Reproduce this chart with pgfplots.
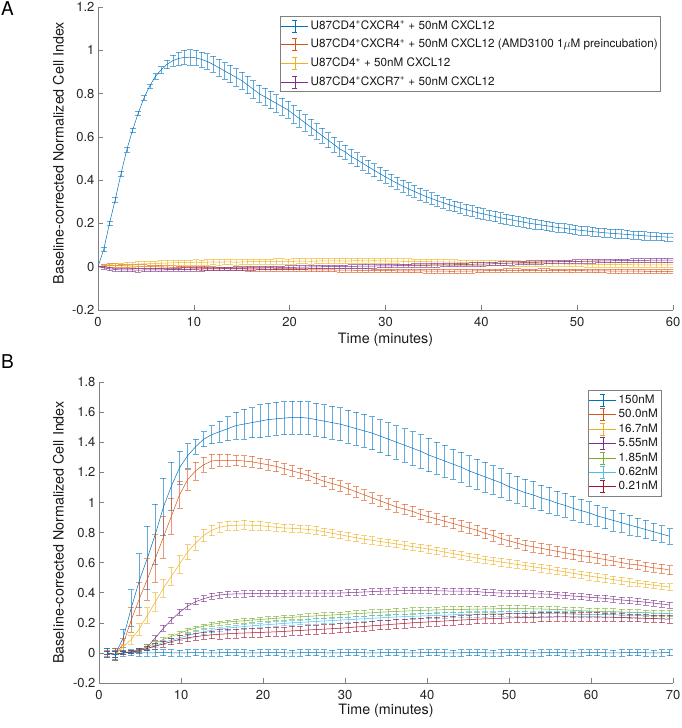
\documentclass[border=0pt]{standalone}
\usepackage{pgfplots}
\usepackage{pgfplotstable}
\pgfplotsset{compat=1.18}
\usepackage{fontspec}
\setmainfont{TeX Gyre Heros}

\definecolor{mlblue}{rgb}{0,0.447,0.741}
\definecolor{mlorange}{rgb}{0.85,0.325,0.098}
\definecolor{mlyellow}{rgb}{0.929,0.694,0.125}
\definecolor{mlpurple}{rgb}{0.494,0.184,0.556}
\definecolor{mlgreen}{rgb}{0.466,0.674,0.188}
\definecolor{mlcyan}{rgb}{0.301,0.745,0.933}
\definecolor{mlred}{rgb}{0.635,0.078,0.184}

% panel A: t, then mean and error for each of the 4 conditions
\pgfplotstableread{
t b eb r er y ey p ep
0.0 0.000 0.000 0.000 0.000 0.000 0.000 0.000 0.000
0.6 0.080 0.010 0.004 0.006 0.002 0.006 -0.005 0.006
1.2 0.200 0.010 0.006 0.008 0.004 0.008 -0.010 0.008
1.8 0.310 0.012 0.006 0.008 0.006 0.010 -0.013 0.008
2.4 0.430 0.012 0.005 0.008 0.008 0.010 -0.015 0.008
3.0 0.540 0.010 0.004 0.008 0.009 0.011 -0.015 0.008
3.6 0.630 0.010 0.003 0.008 0.010 0.011 -0.015 0.008
4.2 0.710 0.010 0.002 0.008 0.012 0.012 -0.016 0.008
4.8 0.780 0.010 0.002 0.008 0.013 0.012 -0.015 0.008
5.4 0.835 0.010 0.001 0.008 0.014 0.012 -0.015 0.008
6.0 0.880 0.012 0.000 0.008 0.015 0.012 -0.014 0.008
6.6 0.910 0.015 -0.001 0.008 0.016 0.012 -0.015 0.008
7.2 0.935 0.020 -0.002 0.008 0.017 0.012 -0.014 0.008
7.8 0.952 0.025 -0.003 0.008 0.018 0.012 -0.013 0.008
8.4 0.962 0.030 -0.004 0.008 0.019 0.012 -0.013 0.008
9.0 0.967 0.032 -0.005 0.008 0.019 0.012 -0.012 0.008
9.6 0.968 0.035 -0.006 0.008 0.020 0.012 -0.012 0.008
10.2 0.965 0.035 -0.006 0.008 0.021 0.012 -0.011 0.008
10.8 0.958 0.035 -0.007 0.008 0.020 0.012 -0.011 0.008
11.4 0.948 0.036 -0.008 0.008 0.021 0.012 -0.010 0.008
12.0 0.935 0.037 -0.008 0.008 0.022 0.012 -0.010 0.008
12.6 0.920 0.038 -0.009 0.008 0.021 0.012 -0.010 0.008
13.2 0.905 0.038 -0.009 0.008 0.022 0.012 -0.009 0.008
13.8 0.890 0.040 -0.010 0.008 0.022 0.012 -0.009 0.008
14.4 0.875 0.040 -0.010 0.008 0.021 0.012 -0.008 0.008
15.0 0.860 0.040 -0.010 0.008 0.022 0.012 -0.008 0.008
15.6 0.840 0.040 -0.011 0.008 0.023 0.012 -0.007 0.008
16.2 0.820 0.040 -0.011 0.008 0.023 0.012 -0.007 0.008
16.8 0.800 0.040 -0.012 0.008 0.024 0.012 -0.006 0.008
17.4 0.785 0.040 -0.012 0.008 0.023 0.012 -0.006 0.008
18.0 0.770 0.040 -0.012 0.008 0.024 0.012 -0.005 0.008
18.6 0.755 0.040 -0.013 0.008 0.025 0.012 -0.005 0.008
19.2 0.740 0.040 -0.013 0.008 0.025 0.012 -0.004 0.008
19.8 0.725 0.040 -0.013 0.008 0.024 0.012 -0.003 0.008
20.4 0.705 0.040 -0.014 0.008 0.025 0.012 -0.003 0.008
21.0 0.685 0.040 -0.014 0.008 0.026 0.012 -0.002 0.008
21.6 0.665 0.038 -0.014 0.008 0.026 0.012 -0.002 0.008
22.2 0.645 0.037 -0.015 0.008 0.025 0.012 -0.001 0.008
22.8 0.625 0.036 -0.015 0.008 0.026 0.012 -0.001 0.008
23.4 0.605 0.035 -0.015 0.008 0.027 0.012 0.000 0.008
24.0 0.585 0.035 -0.015 0.008 0.026 0.012 0.000 0.008
24.6 0.565 0.034 -0.015 0.008 0.027 0.012 0.000 0.008
25.2 0.545 0.033 -0.016 0.008 0.027 0.012 0.001 0.008
25.8 0.530 0.033 -0.016 0.008 0.026 0.012 0.001 0.008
26.4 0.510 0.032 -0.016 0.008 0.027 0.012 0.002 0.008
27.0 0.495 0.032 -0.017 0.008 0.028 0.012 0.002 0.008
27.6 0.478 0.031 -0.017 0.008 0.027 0.012 0.003 0.008
28.2 0.462 0.030 -0.017 0.008 0.027 0.012 0.003 0.008
28.8 0.446 0.030 -0.018 0.008 0.028 0.012 0.003 0.008
29.4 0.430 0.030 -0.018 0.008 0.027 0.012 0.004 0.008
30.0 0.415 0.030 -0.018 0.008 0.027 0.012 0.004 0.008
30.6 0.400 0.029 -0.018 0.008 0.026 0.012 0.004 0.008
31.2 0.386 0.029 -0.019 0.008 0.026 0.012 0.005 0.008
31.8 0.372 0.028 -0.019 0.008 0.025 0.012 0.005 0.008
32.4 0.360 0.028 -0.019 0.008 0.025 0.012 0.005 0.008
33.0 0.348 0.028 -0.019 0.008 0.024 0.012 0.006 0.008
33.6 0.336 0.027 -0.019 0.008 0.024 0.012 0.006 0.008
34.2 0.325 0.027 -0.020 0.008 0.023 0.012 0.006 0.008
34.8 0.315 0.027 -0.020 0.008 0.023 0.012 0.007 0.008
35.4 0.305 0.026 -0.020 0.008 0.022 0.012 0.007 0.008
36.0 0.296 0.026 -0.020 0.008 0.022 0.012 0.008 0.008
36.6 0.287 0.026 -0.021 0.008 0.021 0.012 0.008 0.008
37.2 0.279 0.025 -0.021 0.008 0.021 0.012 0.009 0.008
37.8 0.271 0.025 -0.020 0.008 0.020 0.012 0.010 0.008
38.4 0.264 0.025 -0.020 0.008 0.020 0.012 0.010 0.008
39.0 0.257 0.025 -0.020 0.008 0.019 0.012 0.011 0.008
39.6 0.250 0.025 -0.019 0.008 0.019 0.012 0.012 0.008
40.2 0.244 0.024 -0.019 0.008 0.018 0.012 0.012 0.008
40.8 0.238 0.024 -0.018 0.008 0.018 0.012 0.013 0.008
41.4 0.232 0.024 -0.018 0.008 0.018 0.012 0.014 0.008
42.0 0.226 0.024 -0.018 0.008 0.017 0.012 0.015 0.008
42.6 0.221 0.023 -0.017 0.008 0.017 0.012 0.016 0.008
43.2 0.216 0.023 -0.017 0.008 0.016 0.012 0.017 0.008
43.8 0.211 0.023 -0.017 0.008 0.016 0.012 0.018 0.008
44.4 0.206 0.023 -0.018 0.008 0.015 0.012 0.019 0.008
45.0 0.201 0.022 -0.018 0.008 0.015 0.012 0.020 0.008
45.6 0.197 0.022 -0.018 0.008 0.015 0.012 0.020 0.008
46.2 0.193 0.022 -0.017 0.008 0.014 0.012 0.021 0.008
46.8 0.189 0.022 -0.017 0.008 0.014 0.012 0.022 0.008
47.4 0.185 0.022 -0.018 0.008 0.013 0.012 0.022 0.008
48.0 0.181 0.021 -0.018 0.008 0.013 0.012 0.023 0.008
48.6 0.178 0.021 -0.018 0.008 0.013 0.012 0.024 0.008
49.2 0.174 0.021 -0.019 0.008 0.012 0.012 0.024 0.008
49.8 0.171 0.021 -0.018 0.008 0.012 0.012 0.025 0.008
50.4 0.168 0.021 -0.018 0.008 0.012 0.012 0.025 0.008
51.0 0.165 0.020 -0.019 0.008 0.011 0.012 0.026 0.008
51.6 0.162 0.020 -0.019 0.008 0.011 0.012 0.026 0.008
52.2 0.160 0.020 -0.019 0.008 0.011 0.012 0.027 0.008
52.8 0.157 0.020 -0.019 0.008 0.010 0.012 0.027 0.008
53.4 0.155 0.020 -0.020 0.008 0.010 0.012 0.027 0.008
54.0 0.153 0.020 -0.020 0.008 0.010 0.012 0.028 0.008
54.6 0.151 0.020 -0.020 0.008 0.010 0.012 0.028 0.008
55.2 0.149 0.019 -0.020 0.008 0.010 0.012 0.028 0.008
55.8 0.147 0.019 -0.020 0.008 0.009 0.012 0.029 0.008
56.4 0.145 0.019 -0.020 0.008 0.009 0.012 0.029 0.008
57.0 0.143 0.019 -0.021 0.008 0.009 0.012 0.029 0.008
57.6 0.141 0.018 -0.021 0.008 0.009 0.012 0.030 0.008
58.2 0.140 0.018 -0.021 0.008 0.008 0.012 0.030 0.008
58.8 0.138 0.018 -0.021 0.008 0.008 0.012 0.030 0.008
59.4 0.137 0.018 -0.021 0.008 0.008 0.012 0.030 0.008
60.0 0.136 0.018 -0.021 0.008 0.008 0.012 0.030 0.008
}\tA

% panel B: t, then mean and error for 150, 50, 16.7, 5.55, 1.85, 0.62, 0.21 nM and control
\pgfplotstableread{
t a ea b eb c ec d ed g eg h eh k ek z ez
1.00 0.000 0.030 0.000 0.020 0.000 0.010 0.000 0.010 0.000 0.010 0.000 0.010 0.000 0.010 0.000 0.030
1.98 -0.010 0.040 -0.010 0.040 -0.010 0.020 -0.010 0.020 -0.010 0.020 -0.010 0.020 -0.010 0.020 -0.015 0.030
2.96 0.100 0.060 0.060 0.040 0.040 0.020 0.000 0.010 0.000 0.010 0.000 0.010 0.000 0.010 0.000 0.020
3.94 0.300 0.120 0.220 0.080 0.090 0.030 0.010 0.010 0.010 0.010 0.005 0.010 0.005 0.010 0.002 0.020
4.92 0.480 0.180 0.360 0.110 0.160 0.040 0.020 0.010 0.020 0.010 0.015 0.010 0.015 0.015 0.001 0.020
5.90 0.630 0.210 0.490 0.140 0.250 0.050 0.040 0.015 0.040 0.015 0.030 0.012 0.030 0.015 0.000 0.020
6.88 0.790 0.200 0.630 0.160 0.340 0.060 0.100 0.015 0.065 0.015 0.050 0.012 0.045 0.020 0.001 0.020
7.86 0.970 0.190 0.770 0.140 0.430 0.060 0.165 0.020 0.090 0.015 0.070 0.012 0.060 0.020 0.002 0.020
8.84 1.110 0.160 0.910 0.120 0.510 0.060 0.220 0.020 0.110 0.015 0.085 0.012 0.075 0.020 0.001 0.020
9.82 1.230 0.110 1.050 0.090 0.590 0.060 0.270 0.020 0.130 0.015 0.100 0.015 0.090 0.025 0.000 0.020
10.80 1.310 0.080 1.150 0.070 0.670 0.050 0.310 0.020 0.150 0.015 0.115 0.015 0.100 0.025 0.001 0.020
11.78 1.370 0.050 1.210 0.060 0.730 0.045 0.340 0.020 0.165 0.015 0.128 0.015 0.108 0.025 0.002 0.020
12.76 1.420 0.050 1.250 0.050 0.780 0.040 0.360 0.020 0.178 0.015 0.140 0.015 0.115 0.025 0.001 0.020
13.74 1.450 0.060 1.275 0.045 0.815 0.035 0.375 0.020 0.190 0.015 0.150 0.015 0.120 0.025 0.000 0.020
14.72 1.470 0.070 1.280 0.040 0.835 0.035 0.385 0.020 0.198 0.015 0.158 0.015 0.124 0.030 0.001 0.020
15.70 1.490 0.080 1.280 0.040 0.845 0.030 0.390 0.020 0.205 0.015 0.165 0.015 0.127 0.030 0.002 0.020
16.68 1.510 0.090 1.280 0.035 0.848 0.030 0.392 0.020 0.210 0.015 0.170 0.015 0.130 0.030 0.002 0.020
17.66 1.520 0.100 1.275 0.035 0.850 0.030 0.393 0.020 0.214 0.015 0.175 0.015 0.132 0.030 0.001 0.020
18.64 1.530 0.100 1.270 0.035 0.848 0.030 0.394 0.020 0.218 0.015 0.180 0.015 0.134 0.030 0.000 0.020
19.62 1.540 0.110 1.260 0.035 0.845 0.030 0.395 0.020 0.222 0.015 0.184 0.015 0.136 0.030 0.001 0.020
20.60 1.550 0.110 1.250 0.035 0.840 0.025 0.395 0.020 0.226 0.015 0.188 0.015 0.138 0.030 0.002 0.020
21.58 1.555 0.110 1.240 0.035 0.835 0.025 0.395 0.020 0.230 0.015 0.192 0.015 0.140 0.030 0.002 0.020
22.56 1.560 0.110 1.225 0.035 0.830 0.025 0.396 0.020 0.234 0.015 0.196 0.015 0.143 0.030 0.001 0.020
23.54 1.565 0.110 1.210 0.035 0.828 0.025 0.397 0.020 0.237 0.015 0.200 0.015 0.146 0.030 0.000 0.020
24.52 1.565 0.110 1.195 0.035 0.825 0.025 0.398 0.020 0.240 0.015 0.203 0.015 0.149 0.030 0.001 0.020
25.50 1.560 0.110 1.180 0.035 0.820 0.025 0.398 0.020 0.243 0.018 0.206 0.018 0.152 0.030 0.002 0.020
26.48 1.550 0.110 1.160 0.035 0.815 0.025 0.398 0.020 0.246 0.018 0.209 0.018 0.155 0.030 0.002 0.020
27.46 1.540 0.110 1.140 0.035 0.805 0.025 0.397 0.020 0.249 0.018 0.212 0.018 0.158 0.030 0.001 0.020
28.44 1.530 0.110 1.125 0.035 0.795 0.025 0.397 0.020 0.252 0.018 0.215 0.018 0.161 0.030 0.000 0.020
29.42 1.520 0.110 1.110 0.035 0.785 0.025 0.398 0.020 0.255 0.018 0.218 0.018 0.164 0.030 0.001 0.020
30.40 1.505 0.110 1.090 0.035 0.775 0.025 0.400 0.020 0.258 0.020 0.221 0.018 0.168 0.030 0.002 0.020
31.38 1.490 0.110 1.070 0.035 0.765 0.025 0.402 0.020 0.261 0.020 0.224 0.018 0.172 0.030 0.002 0.020
32.36 1.475 0.110 1.050 0.035 0.755 0.025 0.405 0.020 0.264 0.020 0.227 0.018 0.176 0.030 0.001 0.020
33.34 1.460 0.110 1.030 0.035 0.748 0.025 0.407 0.020 0.267 0.020 0.230 0.018 0.180 0.030 0.000 0.020
34.32 1.440 0.110 1.010 0.035 0.740 0.025 0.410 0.020 0.270 0.020 0.233 0.018 0.184 0.030 0.001 0.020
35.30 1.420 0.110 0.990 0.035 0.732 0.025 0.412 0.020 0.273 0.020 0.236 0.018 0.188 0.030 0.002 0.020
36.28 1.400 0.110 0.970 0.035 0.724 0.025 0.413 0.020 0.276 0.020 0.239 0.018 0.192 0.030 0.002 0.020
37.26 1.380 0.110 0.955 0.035 0.715 0.025 0.414 0.020 0.278 0.020 0.241 0.018 0.196 0.030 0.001 0.020
38.24 1.360 0.110 0.940 0.035 0.706 0.025 0.415 0.020 0.280 0.020 0.243 0.018 0.200 0.030 0.000 0.020
39.22 1.340 0.110 0.920 0.035 0.698 0.025 0.416 0.020 0.282 0.020 0.245 0.018 0.203 0.030 0.001 0.020
40.20 1.315 0.110 0.905 0.035 0.690 0.025 0.415 0.020 0.284 0.020 0.247 0.018 0.206 0.030 0.002 0.020
41.18 1.295 0.105 0.890 0.035 0.680 0.025 0.413 0.020 0.286 0.020 0.249 0.018 0.209 0.030 0.002 0.020
42.16 1.275 0.105 0.875 0.035 0.670 0.025 0.412 0.020 0.287 0.020 0.251 0.018 0.212 0.030 0.001 0.020
43.14 1.255 0.100 0.860 0.035 0.660 0.025 0.410 0.020 0.288 0.020 0.253 0.018 0.215 0.030 0.000 0.020
44.12 1.235 0.100 0.845 0.035 0.650 0.025 0.410 0.020 0.289 0.020 0.255 0.018 0.218 0.030 0.001 0.020
45.10 1.210 0.100 0.830 0.035 0.640 0.025 0.410 0.020 0.290 0.020 0.256 0.018 0.221 0.030 0.002 0.020
46.08 1.190 0.100 0.815 0.035 0.630 0.025 0.407 0.020 0.291 0.020 0.257 0.018 0.224 0.030 0.002 0.020
47.06 1.170 0.100 0.795 0.035 0.620 0.025 0.403 0.020 0.292 0.020 0.258 0.018 0.226 0.030 0.001 0.020
48.04 1.150 0.095 0.780 0.035 0.612 0.025 0.400 0.020 0.293 0.020 0.259 0.018 0.228 0.030 0.000 0.020
49.02 1.130 0.095 0.760 0.035 0.604 0.025 0.398 0.020 0.294 0.020 0.260 0.018 0.230 0.030 0.001 0.020
50.00 1.105 0.090 0.745 0.035 0.596 0.025 0.396 0.020 0.295 0.020 0.261 0.018 0.232 0.030 0.002 0.020
50.98 1.085 0.090 0.730 0.035 0.588 0.025 0.395 0.020 0.295 0.020 0.262 0.018 0.234 0.030 0.002 0.020
51.96 1.065 0.090 0.715 0.035 0.580 0.025 0.394 0.020 0.294 0.020 0.262 0.018 0.235 0.030 0.001 0.020
52.94 1.050 0.090 0.705 0.035 0.572 0.025 0.393 0.020 0.293 0.020 0.262 0.018 0.236 0.030 0.000 0.020
53.92 1.030 0.085 0.695 0.035 0.564 0.025 0.392 0.020 0.292 0.020 0.262 0.018 0.237 0.030 0.001 0.020
54.90 1.015 0.085 0.685 0.035 0.556 0.025 0.390 0.020 0.290 0.020 0.261 0.018 0.238 0.030 0.002 0.020
55.88 0.995 0.080 0.675 0.035 0.547 0.025 0.386 0.020 0.288 0.020 0.260 0.018 0.239 0.030 0.002 0.020
56.86 0.980 0.080 0.665 0.035 0.538 0.025 0.382 0.020 0.286 0.020 0.259 0.018 0.240 0.030 0.001 0.020
57.84 0.960 0.080 0.655 0.035 0.529 0.025 0.378 0.020 0.283 0.020 0.258 0.018 0.240 0.028 0.000 0.020
58.82 0.945 0.075 0.645 0.035 0.520 0.025 0.374 0.020 0.280 0.020 0.257 0.018 0.240 0.028 0.001 0.020
59.80 0.930 0.075 0.640 0.035 0.511 0.025 0.370 0.020 0.278 0.020 0.256 0.018 0.240 0.028 0.002 0.020
60.78 0.910 0.070 0.630 0.035 0.503 0.025 0.366 0.020 0.276 0.020 0.255 0.018 0.239 0.028 0.002 0.020
61.76 0.895 0.070 0.620 0.035 0.495 0.025 0.362 0.020 0.275 0.020 0.254 0.018 0.238 0.028 0.001 0.020
62.74 0.880 0.070 0.610 0.030 0.487 0.025 0.357 0.020 0.274 0.020 0.253 0.018 0.237 0.028 0.000 0.020
63.72 0.865 0.065 0.600 0.030 0.479 0.025 0.352 0.020 0.272 0.020 0.252 0.018 0.236 0.028 0.001 0.020
64.70 0.850 0.065 0.590 0.030 0.471 0.025 0.347 0.020 0.270 0.020 0.251 0.018 0.234 0.025 0.002 0.020
65.68 0.835 0.060 0.585 0.030 0.464 0.022 0.342 0.020 0.268 0.020 0.250 0.018 0.232 0.025 0.002 0.020
66.66 0.820 0.060 0.575 0.030 0.457 0.022 0.337 0.020 0.266 0.020 0.249 0.018 0.230 0.025 0.001 0.020
67.64 0.805 0.055 0.565 0.030 0.450 0.022 0.331 0.020 0.265 0.020 0.248 0.018 0.228 0.025 0.000 0.020
68.62 0.790 0.055 0.560 0.030 0.444 0.022 0.325 0.020 0.264 0.020 0.247 0.018 0.226 0.025 0.001 0.020
69.60 0.775 0.050 0.550 0.030 0.438 0.022 0.318 0.020 0.262 0.020 0.246 0.018 0.224 0.025 0.002 0.020
}\tB

\pgfplotsset{
  panel/.style={
    scale only axis,
    axis x line*=bottom, axis y line*=left,
    axis line style={black!50, line width=0.5pt},
    tick style={black!50, line width=0.5pt},
    major tick length=5pt,
    tick align=inside,
    ticklabel style={font=\fontsize{13}{15}\selectfont, text=black!85},
    xticklabel style={yshift=-4pt},
    label style={font=\fontsize{14.3}{16}\selectfont, text=black!90},
    /pgf/number format/assume math mode=true,
    no markers,
    every axis plot/.append style={line width=0.5pt},
    error bars/y dir=both, error bars/y explicit,
    error bars/error bar style={line width=0.5pt, opacity=0.6},
    error bars/error mark options={rotate=90, mark size=3pt, line width=0.5pt, opacity=0.6},
    legend cell align=left,
    legend style={draw=black!50, line width=0.5pt, fill=white,
      font=\fontsize{11.7}{14}\selectfont, text=black!90,
      inner xsep=1pt, inner ysep=3pt,
      nodes={inner ysep=1pt, inner xsep=2pt, text height=9pt, text depth=2.5pt}},
    legend image code/.code={
      \draw[##1] (0pt,0pt) -- (27pt,0pt);
      \draw[##1] (13.5pt,-6pt) -- (13.5pt,6pt);
      \draw[##1] (11pt,-6pt) -- (16pt,-6pt);
      \draw[##1] (11pt,6pt) -- (16pt,6pt);
    },
  }
}

\begin{document}
\begin{tikzpicture}
\useasboundingbox (0,0) rectangle (682pt,728pt);
\node[font=\fontsize{19}{22}\selectfont] at (7.5pt,719.5pt) {A};
\node[font=\fontsize{19}{22}\selectfont] at (7.5pt,366.5pt) {B};

\begin{axis}[panel,
  at={(98pt,418pt)}, anchor=south west,
  width=575pt, height=303pt,
  xmin=0, xmax=60, ymin=-0.2, ymax=1.2,
  xtick={0,10,...,60},
  ytick={-0.2,0,0.2,0.4,0.6,0.8,1,1.2},
  xlabel={Time (minutes)},
  ylabel={Baseline-corrected Normalized Cell Index},
  xlabel style={at={(axis description cs:0.5,-0.1)}, anchor=center},
  ylabel style={at={(axis description cs:-0.0687,0.518)}, anchor=center},
  legend style={at={(axis description cs:0.3165,0.9703)}, anchor=north west, row sep=5.1pt},
]
\addplot[color=mlblue] table[x=t, y=b, y error=eb] {\tA};
\addlegendentry{U87CD4\textsuperscript{+}CXCR4\textsuperscript{+} + 50nM CXCL12}
\addplot[color=mlorange] table[x=t, y=r, y error=er] {\tA};
\addlegendentry{U87CD4\textsuperscript{+}CXCR4\textsuperscript{+} + 50nM CXCL12 (AMD3100 1$\mu$M preincubation)}
\addplot[color=mlyellow] table[x=t, y=y, y error=ey] {\tA};
\addlegendentry{U87CD4\textsuperscript{+} + 50nM CXCL12}
\addplot[color=mlpurple] table[x=t, y=p, y error=ep] {\tA};
\addlegendentry{U87CD4\textsuperscript{+}CXCR7\textsuperscript{+} + 50nM CXCL12}
\end{axis}

\begin{axis}[panel,
  at={(99pt,45pt)}, anchor=south west,
  width=574pt, height=301pt,
  xmin=0, xmax=70, ymin=-0.2, ymax=1.8,
  xtick={0,10,...,70},
  ytick={-0.2,0,0.2,0.4,0.6,0.8,1,1.2,1.4,1.6,1.8},
  xlabel={Time (minutes)},
  ylabel={Baseline-corrected Normalized Cell Index},
  xlabel style={at={(axis description cs:0.5,-0.093)}, anchor=center},
  ylabel style={at={(axis description cs:-0.0706,0.5)}, anchor=center},
  legend style={at={(axis description cs:0.8519,0.9734)}, anchor=north west, row sep=0.95pt},
]
\addplot[color=mlblue] table[x=t, y=a, y error=ea] {\tB};
\addlegendentry{150nM}
\addplot[color=mlorange] table[x=t, y=b, y error=eb] {\tB};
\addlegendentry{50.0nM}
\addplot[color=mlyellow] table[x=t, y=c, y error=ec] {\tB};
\addlegendentry{16.7nM}
\addplot[color=mlpurple] table[x=t, y=d, y error=ed] {\tB};
\addlegendentry{5.55nM}
\addplot[color=mlgreen] table[x=t, y=g, y error=eg] {\tB};
\addlegendentry{1.85nM}
\addplot[color=mlcyan] table[x=t, y=h, y error=eh] {\tB};
\addlegendentry{0.62nM}
\addplot[color=mlred] table[x=t, y=k, y error=ek] {\tB};
\addlegendentry{0.21nM}
\addplot[color=mlblue, forget plot] table[x=t, y=z, y error=ez] {\tB};
\end{axis}
\end{tikzpicture}
\end{document}
